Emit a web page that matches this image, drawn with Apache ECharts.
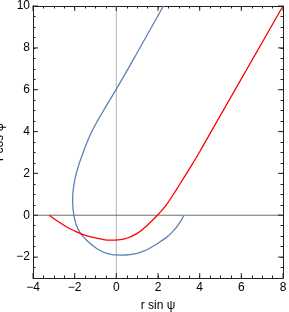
<!DOCTYPE html>
<html><head><meta charset="utf-8">
<script src="https://cdn.jsdelivr.net/npm/echarts@6/dist/echarts.min.js"></script>
<style>html,body{margin:0;padding:0;background:#fff}#c{width:289px;height:312px}</style>
</head><body><div id="c"></div>
<script>
const xTicks = [-4, -2, 0, 2, 4, 6, 8];
const yTicks = [-2, 0, 2, 4, 6, 8, 10];
const blueCurve = [[3.25,0],[2.9,-0.56],[2.5,-0.98],[2.1,-1.27],[1.7,-1.52],[1.3,-1.72],[0.74,-1.87],[0.2,-1.91],[-0.46,-1.82],[-0.94,-1.59],[-1.5,-1.12],[-1.82,-0.7],[-2.02,-0.1],[-2.1,0.7],[-2.03,1.5],[-1.85,2.25],[-1.62,2.92],[-1.42,3.45],[-1.2,3.95],[-0.9,4.52],[-0.46,5.26],[0.02,6.06],[0.98,7.73],[2.26,10]];
const redCurve = [[-3.22,0],[-2.8,-0.3],[-2.38,-0.56],[-1.98,-0.76],[-1.58,-0.93],[-1.18,-1.05],[-0.78,-1.13],[-0.3,-1.19],[0.1,-1.18],[0.5,-1.1],[0.98,-0.88],[1.35,-0.6],[1.65,-0.32],[1.97,0],[2.4,0.5],[2.93,1.3],[3.5,2.2],[4.05,3.12],[8,10]];
const vZero = [[0,-3],[0,10]];
const hZero = [[-4,0],[8,0]];

const fmt = v => String(v).replace('-', '\u2212');
const font = 'Liberation Sans, Arial, sans-serif';
const ink = '#222';
function main(pos, show, min, max, interval, margin) {
  return {
    type:'value', position:pos, min:min, max:max, interval:interval,
    axisLine:{show:true, onZero:false, lineStyle:{color:ink, width:1}},
    axisTick:{show:false},
    splitLine:{show:false},
    axisLabel:{show:show, color:'#000', fontSize:12, fontFamily:font, margin:margin, formatter:fmt},
  };
}
function tickAxis(pos, min, max, interval, len) {
  return {
    type:'value', position:pos, min:min, max:max, interval:interval,
    axisLine:{show:false, onZero:false},
    axisTick:{show:true, inside:true, length:len, lineStyle:{color:ink, width:1}},
    splitLine:{show:false}, axisLabel:{show:false}
  };
}
function tickMarks(data, size, offset) {
  return {type:'scatter', data:data, symbol:'rect', symbolSize:size, symbolOffset:offset,
    itemStyle:{color:ink}, clip:false, silent:true, z:5};
}
const xa = main('bottom', true, -4, 8, 2, 4);
xa.name = 'r sin \u03c8'; xa.nameLocation = 'middle'; xa.nameGap = 22;
xa.nameTextStyle = {color:'#000', fontSize:12, fontFamily:font};
const xa2 = main('top', false, -4, 8, 2, 4);

const ya = main('left', true, -3, 10, 1, 3);
ya.axisLabel.customValues = yTicks;
ya.name = 'r cos \u03c8'; ya.nameLocation = 'middle'; ya.nameGap = 23;
ya.nameTextStyle = {color:'#000', fontSize:12, fontFamily:font};
const ya2 = main('right', false, -3, 10, 1, 3);

const chart = echarts.init(document.getElementById('c'), null, {renderer:'canvas'});
chart.setOption({
  animation:false,
  grid:{left:33, right:6, top:6, bottom:34, containLabel:false, outerBoundsMode:'none'},
  xAxis:[xa, xa2, tickAxis('bottom', -4, 8, 0.5, 2.5), tickAxis('top', -4, 8, 0.5, 2.5)],
  yAxis:[ya, ya2, tickAxis('left', -3, 10, 0.5, 2.5), tickAxis('right', -3, 10, 0.5, 2.5)],
  series:[
    {type:'line', data:vZero, showSymbol:false, lineStyle:{color:'#b4b4b4', width:1}, silent:true},
    {type:'line', data:hZero, showSymbol:false, lineStyle:{color:'#6e6e6e', width:1}, silent:true},
    {type:'line', data:blueCurve, smooth:0.5, showSymbol:false, lineStyle:{color:'#5E81B5', width:1.3}},
    {type:'line', data:redCurve, smooth:0.5, showSymbol:false, lineStyle:{color:'#FF0000', width:1.3}},
    tickMarks(xTicks.map(v => [v, -3]), [1.2, 5], [0, -2.5]),
    tickMarks(xTicks.map(v => [v, 10]), [1.2, 5], [0, 2.5]),
    tickMarks(yTicks.map(v => [-4, v]), [5, 1.2], [2.5, 0]),
    tickMarks(yTicks.map(v => [8, v]), [5, 1.2], [-2.5, 0])
  ]
});
</script>
</body></html>
